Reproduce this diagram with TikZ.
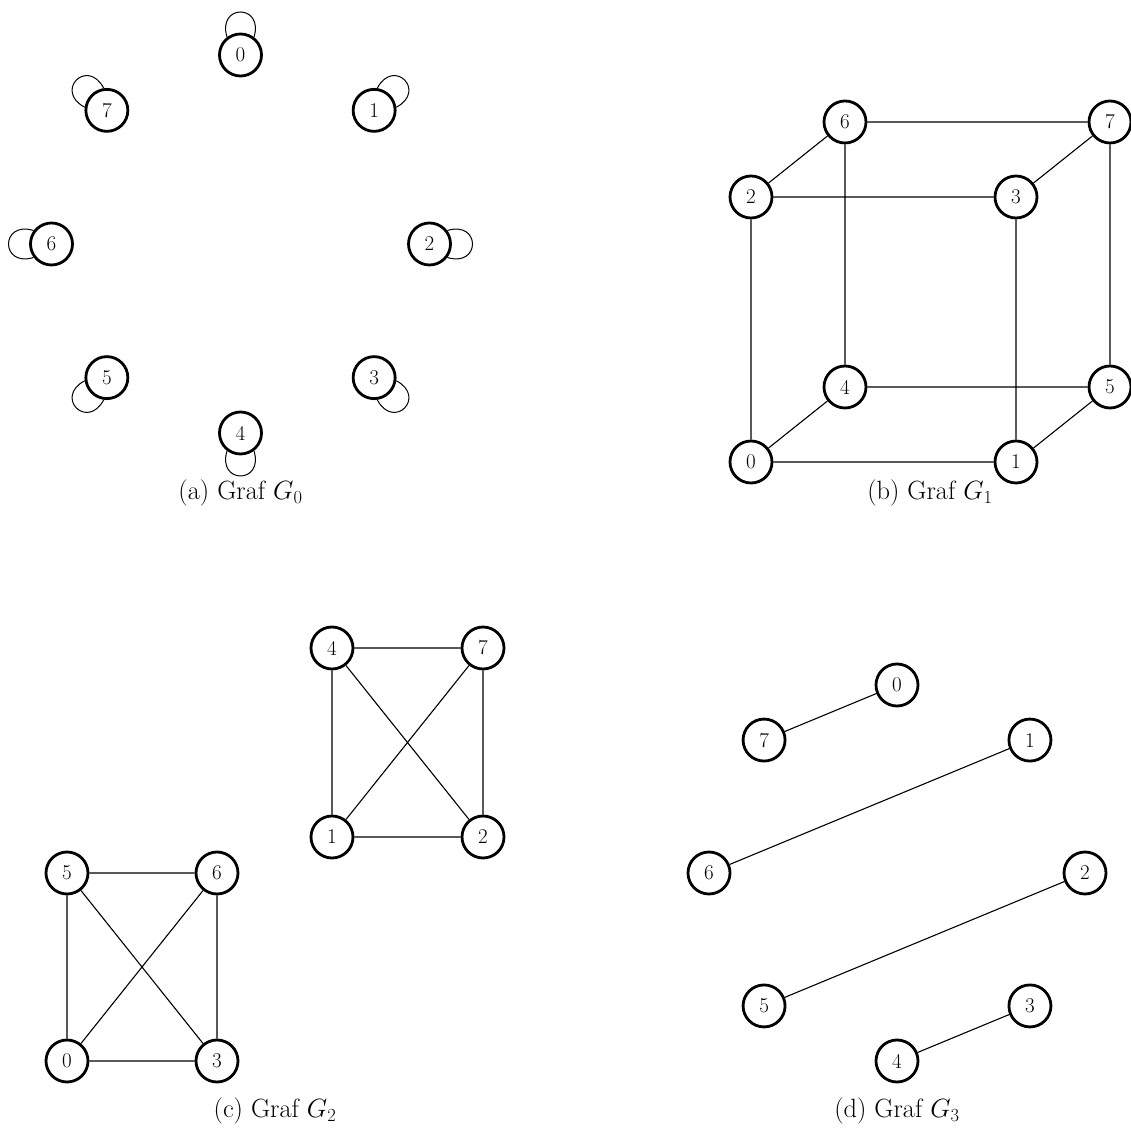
\RequirePackage{fix-cm}
\documentclass[tikz,border=0pt]{standalone}
\usepackage{fontspec}
\setmainfont{Latin Modern Roman}
\usetikzlibrary{calc}
\tikzset{
  vtx/.style={circle, draw, line width=2.8pt, minimum size=42pt, inner sep=0pt, font=\fontsize{21}{25}\selectfont},
  lnk/.style={line width=1.1pt},
  lp/.style={line width=1pt},
  capt/.style={font=\fontsize{26.4}{31}\selectfont}
}
\begin{document}
\begin{tikzpicture}[x=1pt,y=1pt]
\useasboundingbox (0,0) rectangle (1131,1127);
% ---------- (a) G0 ----------
\foreach \k in {0,...,7}{
  \pgfmathsetmacro\t{90-45*\k}
  \node[vtx] (a\k) at ($(240.5,883)+(\t:189)$) {\k};
}
\foreach \k in {0,...,7}{
  \pgfmathtruncatemacro\s{mod(90-45*\k+37+720,360)}
  \pgfmathtruncatemacro\e{mod(90-45*\k-37+720,360)}
  \pgfmathtruncatemacro\cs{90-45*\k+17}
  \pgfmathtruncatemacro\ce{90-45*\k-17}
  \draw[lp] (a\k.\s) .. controls +(\cs:35) and +(\ce:35) .. (a\k.\e);
}
\node[capt] (ca) at (240.5,634) {(a) Graf $G_0$};
% ---------- (b) G1 ----------
\node[vtx] (b6) at (845,1005) {6};
\node[vtx] (b7) at (1110,1005) {7};
\node[vtx] (b2) at (751,930) {2};
\node[vtx] (b3) at (1016,930) {3};
\node[vtx] (b4) at (845,740) {4};
\node[vtx] (b5) at (1110,740) {5};
\node[vtx] (b0) at (751,665) {0};
\node[vtx] (b1) at (1016,665) {1};
\draw[lnk] (b6)--(b7) (b6)--(b2) (b6)--(b4) (b7)--(b3) (b7)--(b5)
  (b2)--(b3) (b2)--(b0) (b3)--(b1) (b4)--(b5) (b4)--(b0) (b5)--(b1) (b0)--(b1);
\node[capt] (cb) at (930,634) {(b) Graf $G_1$};
% ---------- (c) G2 ----------
\node[vtx] (c4) at (332,479) {4};
\node[vtx] (c7) at (483,479) {7};
\node[vtx] (c1) at (332,290) {1};
\node[vtx] (c2) at (483,290) {2};
\node[vtx] (c5) at (67,254) {5};
\node[vtx] (c6) at (217,254) {6};
\node[vtx] (c0) at (67,66) {0};
\node[vtx] (c3) at (217,66) {3};
\draw[lnk] (c4)--(c7) (c4)--(c1) (c7)--(c2) (c1)--(c2) (c4)--(c2) (c7)--(c1);
\draw[lnk] (c5)--(c6) (c5)--(c0) (c6)--(c3) (c0)--(c3) (c5)--(c3) (c6)--(c0);
\node[capt] (cc) at (275,16) {(c) Graf $G_2$};
% ---------- (d) G3 ----------
\foreach \k in {0,...,7}{
  \pgfmathsetmacro\t{90-45*\k}
  \node[vtx] (d\k) at ($(897,254)+(\t:188)$) {\k};
}
\draw[lnk] (d7)--(d0) (d6)--(d1) (d5)--(d2) (d4)--(d3);
\node[capt] (cd) at (897,16) {(d) Graf $G_3$};
\end{tikzpicture}
\end{document}
